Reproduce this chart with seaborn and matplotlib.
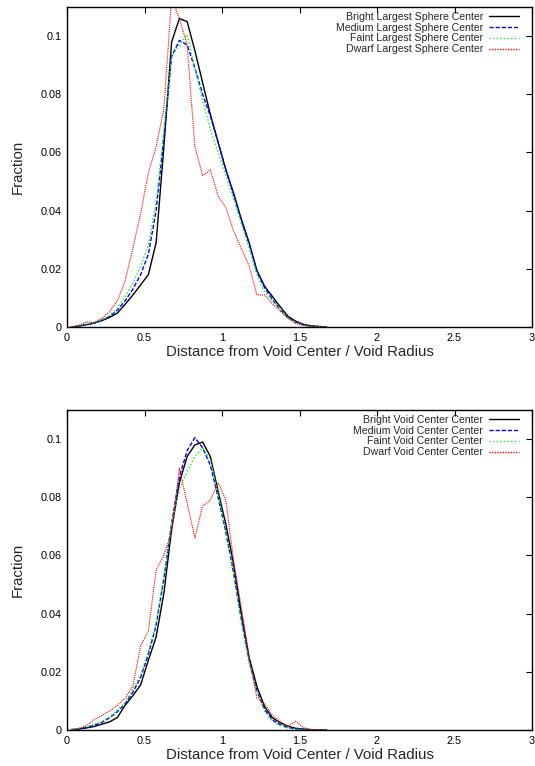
import matplotlib
matplotlib.use("Agg")
import matplotlib.pyplot as plt
import matplotlib.ticker as mticker
import seaborn as sns
import pandas as pd

# bin centres (distance / void radius)
dist = [0.025, 0.075, 0.125, 0.175, 0.225, 0.275, 0.325, 0.375, 0.425, 0.475,
        0.525, 0.575, 0.625, 0.675, 0.725, 0.775, 0.825, 0.875, 0.925, 0.975,
        1.025, 1.075, 1.125, 1.175, 1.225, 1.275, 1.325, 1.375, 1.425, 1.475,
        1.525, 1.575, 1.625, 1.675]

# top panel: largest sphere center
sphere_bright = [0.0, 0.0003, 0.0008, 0.0013, 0.0022, 0.0033, 0.0048, 0.0078, 0.011, 0.0145,
                 0.018, 0.029, 0.062, 0.098, 0.106, 0.105, 0.095, 0.084, 0.073, 0.0635,
                 0.054, 0.046, 0.037, 0.029, 0.0195, 0.014, 0.0105, 0.007, 0.0037, 0.002,
                 0.0009, 0.0004, 0.0002, 0.0]
sphere_medium = [0.0, 0.0003, 0.0009, 0.0014, 0.0024, 0.0036, 0.0058, 0.009, 0.013, 0.018,
                 0.025, 0.040, 0.065, 0.093, 0.0985, 0.097, 0.089, 0.080, 0.0725, 0.0635,
                 0.054, 0.0455, 0.0365, 0.0285, 0.019, 0.0135, 0.0095, 0.006, 0.0033, 0.0017,
                 0.0008, 0.0003, 0.0001, 0.0]
sphere_faint = [0.0, 0.0004, 0.001, 0.0015, 0.0025, 0.004, 0.0065, 0.0105, 0.015, 0.021,
                0.028, 0.043, 0.068, 0.093, 0.097, 0.1005, 0.089, 0.078, 0.068, 0.060,
                0.052, 0.044, 0.0355, 0.027, 0.018, 0.012, 0.009, 0.006, 0.003, 0.0015,
                0.0006, 0.0002, 0.0001, 0.0]
sphere_dwarf = [0.0, 0.0005, 0.0018, 0.0015, 0.003, 0.0053, 0.009, 0.016, 0.027, 0.039,
                0.053, 0.062, 0.075, 0.113, 0.106, 0.097, 0.062, 0.052, 0.054, 0.045,
                0.041, 0.033, 0.027, 0.021, 0.011, 0.011, 0.008, 0.0055, 0.003, 0.0012,
                0.0005, 0.0002, 0.0, 0.0]

# bottom panel: void center
void_bright = [0.0001, 0.0003, 0.0007, 0.0012, 0.002, 0.0028, 0.0043, 0.0085, 0.0118, 0.0155,
               0.024, 0.032, 0.047, 0.069, 0.085, 0.094, 0.098, 0.099, 0.094, 0.082,
               0.0707, 0.057, 0.040, 0.025, 0.015, 0.008, 0.0042, 0.0025, 0.0013, 0.0006,
               0.0003, 0.0001, 0.0, 0.0]
void_medium = [0.0001, 0.0004, 0.0009, 0.0016, 0.0026, 0.0042, 0.0063, 0.009, 0.013, 0.018,
               0.026, 0.036, 0.052, 0.071, 0.087, 0.096, 0.1005, 0.097, 0.091, 0.080,
               0.068, 0.054, 0.038, 0.024, 0.0135, 0.007, 0.0035, 0.0018, 0.0008, 0.0004,
               0.0002, 0.0001, 0.0, 0.0]
void_faint = [0.0001, 0.0005, 0.0012, 0.002, 0.003, 0.0045, 0.007, 0.0095, 0.014, 0.019,
              0.027, 0.037, 0.053, 0.071, 0.083, 0.089, 0.094, 0.097, 0.093, 0.081,
              0.068, 0.053, 0.037, 0.023, 0.013, 0.0065, 0.003, 0.0015, 0.0007, 0.0003,
              0.0001, 0.0, 0.0, 0.0]
void_dwarf = [0.0, 0.0005, 0.0015, 0.0035, 0.005, 0.0065, 0.0085, 0.011, 0.015, 0.029,
              0.034, 0.055, 0.060, 0.068, 0.090, 0.078, 0.066, 0.077, 0.079, 0.085,
              0.079, 0.058, 0.042, 0.025, 0.011, 0.009, 0.005, 0.003, 0.0012, 0.003,
              0.0008, 0.0002, 0.0, 0.0]

classes = ["Bright", "Medium", "Faint", "Dwarf"]
class_colors = ["#000000", "#0000ff", "#00ff00", "#ff0000"]
class_dashes = ["", (3, 1.4), (1, 1.6), (1, 0.9)]

x_ticks = [0, 0.5, 1, 1.5, 2, 2.5, 3]
y_ticks = [0, 0.02, 0.04, 0.06, 0.08, 0.1]


def build_frame(series, suffix):
    rows = []
    for cls, vals in zip(classes, series):
        for d, v in zip(dist, vals):
            rows.append({"dist": d, "frac": v, "kind": cls + " " + suffix})
    return pd.DataFrame(rows)


def draw_panel(ax, series, suffix):
    df = build_frame(series, suffix)
    names = [c + " " + suffix for c in classes]
    pal = dict(zip(names, class_colors))
    dsh = dict(zip(names, class_dashes))
    sns.lineplot(data=df, x="dist", y="frac", hue="kind", style="kind",
                 hue_order=names, style_order=names, palette=pal, dashes=dsh,
                 linewidth=1.0, ax=ax)
    ax.lines[3].set_linewidth(0.8)
    ax.set_xlim(0, 3)
    ax.set_ylim(0, 0.11)
    ax.xaxis.set_major_locator(mticker.FixedLocator(x_ticks))
    ax.yaxis.set_major_locator(mticker.FixedLocator(y_ticks))
    ax.xaxis.set_major_formatter(mticker.FormatStrFormatter("%g"))
    ax.yaxis.set_major_formatter(mticker.FormatStrFormatter("%g"))
    ax.tick_params(direction="in", length=4, width=0.8, top=True, right=True,
                   labelsize=7.8, pad=4, colors="black")
    for sp in ax.spines.values():
        sp.set_linewidth(1.0)
        sp.set_color("black")
    ax.set_xlabel("Distance from Void Center / Void Radius", fontsize=10.8, labelpad=2)
    ax.set_ylabel("Fraction", fontsize=10.8, labelpad=11)
    sns.move_legend(ax, "upper right", bbox_to_anchor=(0.972, 0.985), title=None,
                    frameon=False, markerfirst=False, fontsize=7.6, handlelength=2.8,
                    handletextpad=0.6, labelspacing=0.08, borderpad=0, borderaxespad=0)


sns.set_style("white")
plt.rcParams["font.family"] = ["Liberation Sans", "DejaVu Sans"]

fig = plt.figure(figsize=(5.35, 7.66), dpi=100)
ax1 = fig.add_axes([67 / 535, 1 - 327 / 766, 465 / 535, 320 / 766])
ax2 = fig.add_axes([67 / 535, 1 - 730 / 766, 465 / 535, 320 / 766])

draw_panel(ax1, [sphere_bright, sphere_medium, sphere_faint, sphere_dwarf], "Largest Sphere Center")
draw_panel(ax2, [void_bright, void_medium, void_faint, void_dwarf], "Void Center Center")

fig.savefig("out.png", dpi=100)
